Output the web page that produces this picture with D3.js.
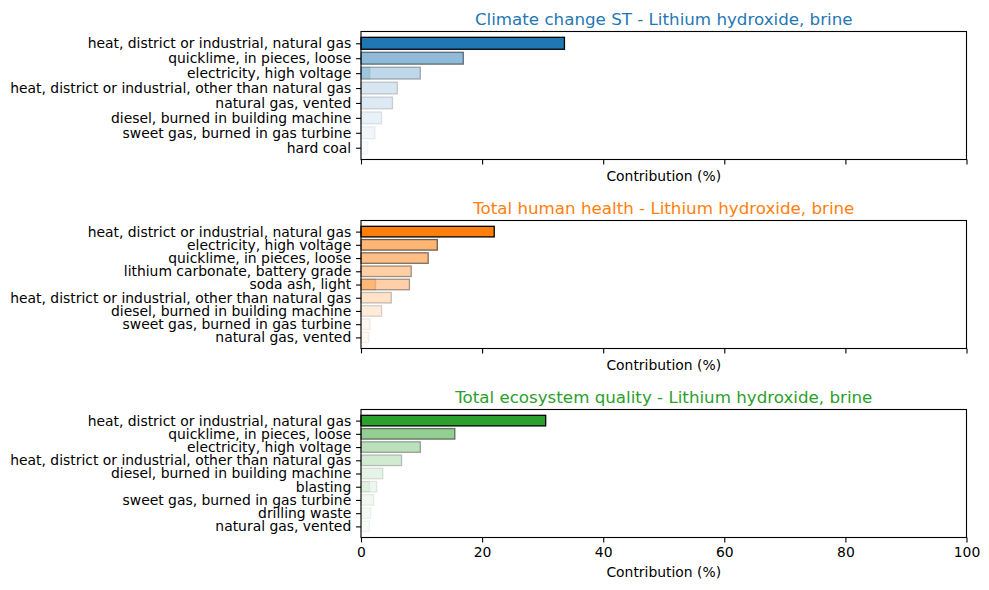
<!DOCTYPE html>
<html>
<head>
<meta charset="utf-8">
<script src="https://cdn.jsdelivr.net/npm/d3@7"></script>
<style>
  body { margin: 0; background: #fff; }
  text { font-family: "DejaVu Sans", sans-serif; }
</style>
</head>
<body>
<svg id="chart" width="989" height="590"></svg>
<script>
// contributions (%) per impact category, top to bottom; a repeated label shares its row
var climateLabels = ["heat, district or industrial, natural gas", "quicklime, in pieces, loose", "electricity, high voltage",
  "heat, district or industrial, other than natural gas", "natural gas, vented", "diesel, burned in building machine",
  "sweet gas, burned in gas turbine", "hard coal", "electricity, high voltage"];
var climateValues = [33.6, 16.9, 9.8, 6.0, 5.2, 3.4, 2.3, 1.1, 1.5];

var healthLabels = ["heat, district or industrial, natural gas", "electricity, high voltage", "quicklime, in pieces, loose",
  "lithium carbonate, battery grade", "soda ash, light", "heat, district or industrial, other than natural gas",
  "diesel, burned in building machine", "sweet gas, burned in gas turbine", "natural gas, vented", "soda ash, light"];
var healthValues = [22.0, 12.6, 11.1, 8.3, 8.0, 5.0, 3.4, 1.5, 1.3, 2.4];

var ecoLabels = ["heat, district or industrial, natural gas", "quicklime, in pieces, loose", "electricity, high voltage",
  "heat, district or industrial, other than natural gas", "diesel, burned in building machine", "blasting",
  "sweet gas, burned in gas turbine", "drilling waste", "natural gas, vented", "blasting"];
var ecoValues = [30.5, 15.5, 9.8, 6.7, 3.6, 2.6, 2.1, 1.6, 1.4, 1.4];

var xTicks = [0, 20, 40, 60, 80, 100];

var svg = d3.select("#chart"),
  left = 361, right = 966.5, panelH = 128;

var panels = [
  { title: "Climate change ST - Lithium hydroxide, brine", color: "#1f77b4", labels: climateLabels, values: climateValues, top: 31.5, repeatAlpha: 0.2 },
  { title: "Total human health - Lithium hydroxide, brine", color: "#ff7f0e", labels: healthLabels, values: healthValues, top: 220.5, repeatAlpha: 0.3 },
  { title: "Total ecosystem quality - Lithium hydroxide, brine", color: "#2ca02c", labels: ecoLabels, values: ecoValues, top: 409.5, repeatAlpha: 0.07 }
];

var x = d3.scaleLinear().domain([0, 100]).range([left, right]);

panels.forEach(function (p, k) {
  var rows = Array.from(new Set(p.labels)),
    n = rows.length,
    m = 0.05 * (n - 0.2),
    bottom = p.top + panelH,
    last = k == panels.length - 1,
    vmax = d3.max(p.values);

  var y = d3.scaleLinear()
    .domain([-0.4 - m, n - 0.6 + m])
    .range([p.top, bottom]);

  var g = svg.append("g");

  // bars, each faded by its share of the largest one
  var seen = {};
  var bars = p.labels.map(function (l, i) {
    var rep = seen[l]; seen[l] = true;
    var share = p.values[i] / vmax;
    return { label: l, value: p.values[i], row: rows.indexOf(l), fillA: rep ? p.repeatAlpha : share, edgeA: share };
  });

  g.selectAll("rect.bar")
    .data(bars)
    .enter().append("rect")
    .attr("class", "bar")
    .attr("x", x(0))
    .attr("width", function (d) { return x(d.value) - x(0); })
    .attr("y", function (d) { return y(d.row - 0.4); })
    .attr("height", function (d) { return y(d.row + 0.4) - y(d.row - 0.4); })
    .attr("fill", p.color)
    .attr("fill-opacity", function (d) { return d.fillA; })
    .attr("stroke", "#000")
    .attr("stroke-opacity", function (d) { return d.edgeA; })
    .attr("stroke-width", 1.3);

  // y axis
  var ya = g.append("g")
    .attr("transform", "translate(" + left + ",0)")
    .call(d3.axisLeft(y).tickValues(d3.range(n)).tickFormat(function (i) { return rows[i]; })
      .tickSize(4.9).tickPadding(4.9));
  ya.select(".domain").remove();

  // x axis (labels only on the last panel)
  var xa = g.append("g")
    .attr("transform", "translate(0," + bottom + ")")
    .call(d3.axisBottom(x).tickValues(xTicks).tickSize(4.9).tickPadding(4.9));
  xa.select(".domain").remove();
  if (!last) xa.selectAll("text").remove();

  [ya, xa].forEach(function (a) {
    a.selectAll("text").attr("font-size", 13.9).attr("fill", "#000")
      .style("font-family", "'DejaVu Sans', sans-serif");
    a.selectAll("line").attr("stroke", "#000").attr("stroke-width", 1.1);
  });

  // frame
  g.append("rect")
    .attr("x", left).attr("y", p.top)
    .attr("width", right - left).attr("height", panelH)
    .attr("fill", "none").attr("stroke", "#000").attr("stroke-width", 1.1);

  g.append("text")
    .attr("x", (left + right) / 2).attr("y", p.top - 7)
    .attr("text-anchor", "middle")
    .attr("font-size", 16.7)
    .attr("fill", p.color)
    .text(p.title);

  g.append("text")
    .attr("x", (left + right) / 2).attr("y", bottom + (last ? 39.5 : 21.5))
    .attr("text-anchor", "middle")
    .attr("font-size", 13.9)
    .text("Contribution (%)");
});
</script>
</body>
</html>
